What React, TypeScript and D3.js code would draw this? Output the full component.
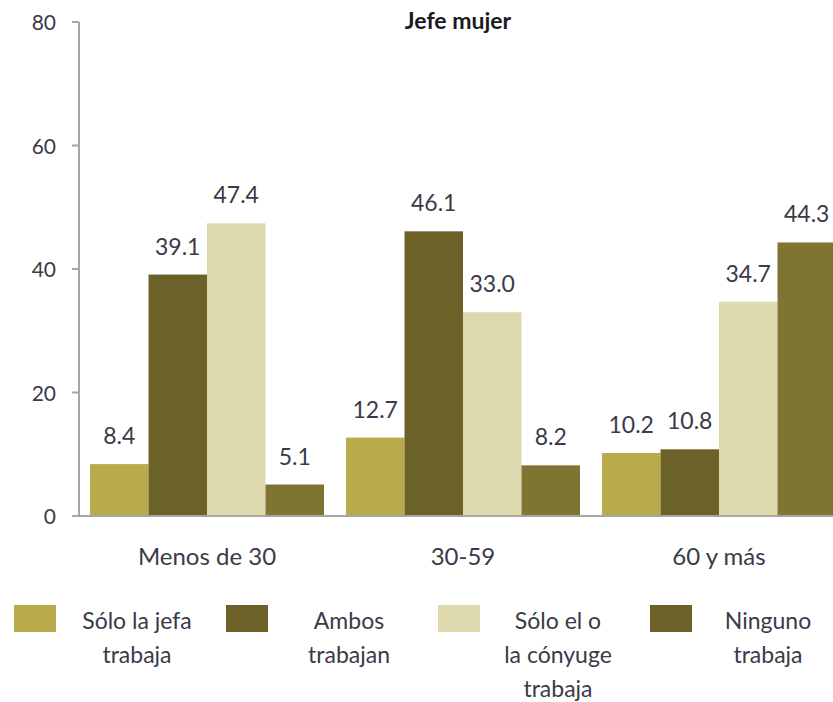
import React from "react";
import * as d3 from "d3";

const categories = ["Menos de 30", "30-59", "60 y más"];
const seriesNames = [
  ["Sólo la jefa", "trabaja"],
  ["Ambos", "trabajan"],
  ["Sólo el o", "la cónyuge", "trabaja"],
  ["Ninguno", "trabaja"],
];
const soloJefa = [8.4, 12.7, 10.2];
const ambos = [39.1, 46.1, 10.8];
const soloConyuge = [47.4, 33.0, 34.7];
const ninguno = [5.1, 8.2, 44.3];
const yTicks = [0, 20, 40, 60, 80];

const barColors = ["#b9aa4b", "#6c6129", "#ddd8ae", "#7f7431"];
const legendColors = ["#b9aa4b", "#6c6129", "#ddd8ae", "#6c6129"];

const series = [soloJefa, ambos, soloConyuge, ninguno];

export default function App() {
  const W = 833, H = 702;
  const x0 = d3.scaleBand<string>().domain(categories).range([79, 847]).paddingInner(0.086).paddingOuter(0.043);
  const x1 = d3.scaleBand<number>().domain([0, 1, 2, 3]).range([0, x0.bandwidth()]).padding(0);
  const y = d3.scaleLinear().domain([0, 80]).range([516, 22]);
  const font = "Lato, 'Open Sans', sans-serif";
  const textColor = "#3a3a48";
  const legendX = [14, 226, 438, 650];
  const legendTextX = [137, 349, 558, 768];
  return (
    <svg width={W} height={H} style={{ position: "absolute", left: 0, top: 0 }} fontFamily={font}>
      <rect width={W} height={H} fill="#fff" />
      <text x={458} y={29} textAnchor="middle" fontWeight="bold" fontSize={23} fill="#1a1a22">Jefe mujer</text>
      {categories.map((c, ci) =>
        series.map((s, si) => {
          const bx = (x0(c) as number) + (x1(si) as number);
          const bw = x1.bandwidth();
          return (
            <g key={c + si}>
              <rect x={bx} y={y(s[ci])} width={bw} height={y(0) - y(s[ci])} fill={barColors[si]} />
              <text x={bx + bw / 2} y={y(s[ci]) - 20} textAnchor="middle" fontSize={23} fill={textColor}>
                {s[ci].toFixed(1)}
              </text>
            </g>
          );
        })
      )}
      <line x1={79} x2={79} y1={y(80)} y2={y(0)} stroke="#a6a6a6" strokeWidth={2} />
      <line x1={72} x2={W} y1={y(0)} y2={y(0)} stroke="#a6a6a6" strokeWidth={2} />
      {yTicks.map((t) => (
        <g key={t}>
          <line x1={72} x2={79} y1={y(t)} y2={y(t)} stroke="#a6a6a6" strokeWidth={2} />
          <text x={56} y={y(t) + 8} textAnchor="end" fontSize={21} fill={textColor}>{t}</text>
        </g>
      ))}
      {categories.map((c) => (
        <text key={c} x={(x0(c) as number) + x0.bandwidth() / 2} y={565} textAnchor="middle" fontSize={24} fill={textColor}>
          {c}
        </text>
      ))}
      {seriesNames.map((lines, i) => (
        <g key={i}>
          <rect x={legendX[i]} y={605} width={42} height={27} fill={legendColors[i]} />
          {lines.map((ln, li) => (
            <text key={li} x={legendTextX[i]} y={629 + li * 34} textAnchor="middle" fontSize={23} fill={textColor}>
              {ln}
            </text>
          ))}
        </g>
      ))}
    </svg>
  );
}
